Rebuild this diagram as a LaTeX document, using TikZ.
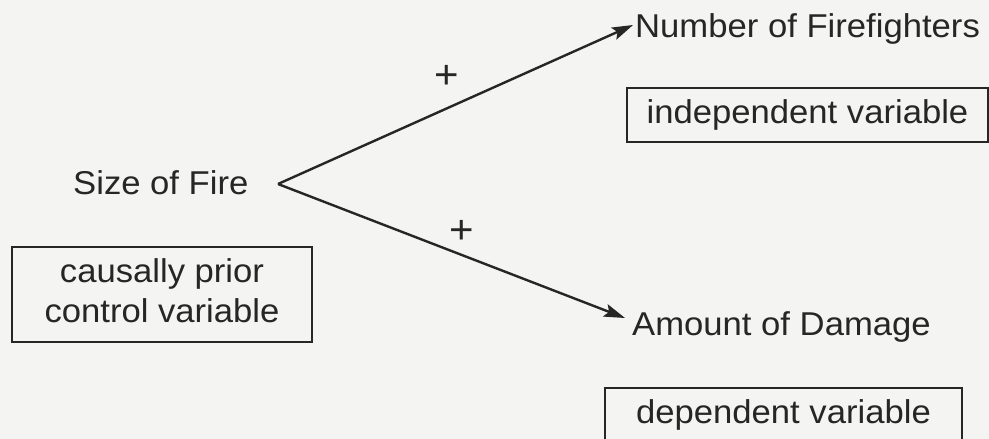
\documentclass[tikz,border=0pt]{standalone}
\usepackage{fontspec}
\setmainfont[FakeStretch=1.05]{Liberation Sans}
\usetikzlibrary{arrows.meta}
\definecolor{ink}{HTML}{262626}
\definecolor{paper}{HTML}{F4F4F2}
\begin{document}
\begin{tikzpicture}[x=1pt,y=-1pt,
  lbl/.style={inner sep=0pt, text=ink, font=\fontsize{33}{40}\selectfont},
  plus/.style={inner sep=0pt, text=ink, font=\fontsize{40}{40}\selectfont},
  vbox/.style={draw=ink, line width=1.8pt, inner sep=0pt, text=ink, align=center,
    font=\fontsize{33}{40}\selectfont},
  link/.style={draw=ink, line width=2.4pt, -{Stealth[length=21pt,width=13pt,inset=4pt]}}]
\useasboundingbox (0,0) rectangle (989,439);
\clip (0,0) rectangle (989,439);
\fill[paper] (0,0) rectangle (989,439);
\node[lbl, anchor=base west] (fire) at (73,194) {Size of Fire};
\node[lbl, anchor=base west] (nf) at (635,37) {Number of Firefighters};
\node[lbl, anchor=base west] (ad) at (632,335) {Amount of Damage};
\coordinate (apex) at (278,184);
\draw[link] (apex) -- ([shift={(-2,-12)}]nf.base west);
\draw[link] (apex) -- ([shift={(-7,-17)}]ad.base west);
\node[plus] (p1) at (447,77) {+};
\node[plus] (p2) at (462,232) {+};
\node[vbox, minimum width=300pt, minimum height=95pt, text depth=7pt] (cp) at (162,294.5) {causally prior\\control variable};
\node[vbox, minimum width=361pt, minimum height=54pt] (iv) at (807.5,115) {independent variable};
\node[vbox, minimum width=357pt, minimum height=54pt] (dv) at (783.5,415) {dependent variable};
\end{tikzpicture}
\end{document}
